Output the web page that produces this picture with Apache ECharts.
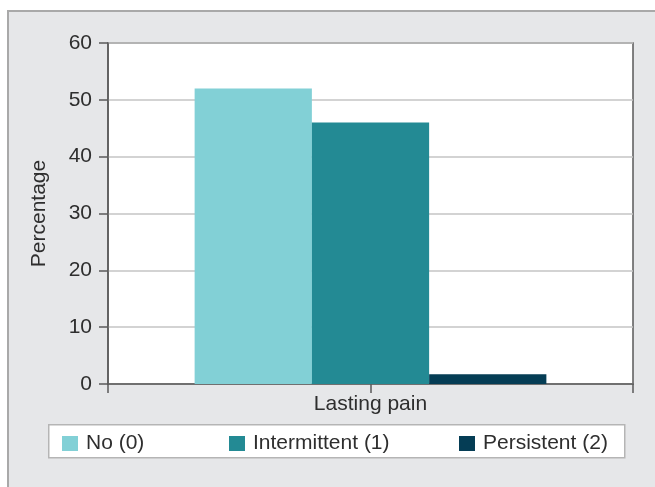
<!DOCTYPE html>
<html>
<head>
<meta charset="utf-8">
<script src="https://cdn.jsdelivr.net/npm/echarts@6/dist/echarts.min.js"></script>
<style>
  html, body { margin: 0; padding: 0; background: #fff; }
  #wrap { position: relative; width: 655px; height: 487px; overflow: hidden; }
  #frame { position: absolute; left: 7px; top: 10px; width: 700px; height: 520px;
           background: #e6e7e9; border: 2px solid #a9a9a9; }
  #chart { position: absolute; left: 0; top: 0; width: 655px; height: 487px; }
</style>
</head>
<body>
<div id="wrap">
  <div id="frame"></div>
  <div id="chart"></div>
</div>
<script>
// Lasting pain outcome, percentage of patients per group
const categories = ['Lasting pain'];
const seriesNames = ['No (0)', 'Intermittent (1)', 'Persistent (2)'];
const noPain = [52];
const intermittent = [46];
const persistent = [1.7];
const yTicks = { min: 0, max: 60, interval: 10 };

const colors = ['#82d0d6', '#238a94', '#053d55'];
const font = 'Liberation Sans, Arial, sans-serif';
const fontSize = 21;
const textColor = '#2e2e2e';
const axisColor = '#5a5a5a';

const chart = echarts.init(document.getElementById('chart'));

// one legend per entry so each sits at its own spot in the white box
const legendLefts = [62, 229, 459];
const legends = seriesNames.map((name, i) => ({
  data: [name],
  left: legendLefts[i],
  top: 433,
  padding: 0,
  itemWidth: 16,
  itemHeight: 15,
  itemGap: 0,
  icon: 'rect',
  selectedMode: false,
  textStyle: { fontFamily: font, fontSize: fontSize, color: textColor, padding: [0, 0, 0, 3] }
}));

const option = {
  animation: false,
  color: colors,
  textStyle: { fontFamily: font },
  graphic: [{
    type: 'rect',
    left: 48, top: 424, z: -1,
    shape: { width: 576, height: 33 },
    style: { fill: '#ffffff', stroke: '#b5b5b5', lineWidth: 1.5 }
  }],
  legend: legends,
  grid: {
    left: 108, right: 22, top: 43, bottom: 103,
    show: true, backgroundColor: '#ffffff',
    borderColor: axisColor, borderWidth: 1.5
  },
  xAxis: [{
    type: 'category',
    data: categories,
    show: false
  }, {
    // tick/label axis: ticks at both plot edges and under the group label
    type: 'category',
    position: 'bottom',
    boundaryGap: false,
    data: ['', categories[0], ''],
    axisLine: { lineStyle: { color: axisColor, width: 1.5 } },
    axisTick: { show: true, length: 9, interval: 0, lineStyle: { color: axisColor, width: 1.5 } },
    axisLabel: { interval: 0, margin: 10, fontSize: fontSize, color: textColor, fontFamily: font },
    splitLine: { show: false }
  }],
  yAxis: {
    type: 'value',
    min: yTicks.min, max: yTicks.max, interval: yTicks.interval,
    name: 'Percentage',
    nameLocation: 'middle',
    nameGap: 58,
    nameTextStyle: { fontSize: fontSize, color: textColor, fontFamily: font },
    axisLine: { show: true, lineStyle: { color: axisColor, width: 1.5 } },
    axisTick: { show: true, length: 9, lineStyle: { color: axisColor, width: 1.5 } },
    axisLabel: { margin: 16, fontSize: fontSize, color: textColor, fontFamily: font },
    splitLine: { lineStyle: { color: '#c4c4c4', width: 1.5 } }
  },
  series: [
    { name: seriesNames[0], type: 'bar', xAxisIndex: 0, data: noPain, barCategoryGap: '33%', barGap: '0%' },
    { name: seriesNames[1], type: 'bar', xAxisIndex: 0, data: intermittent, barCategoryGap: '33%', barGap: '0%' },
    { name: seriesNames[2], type: 'bar', xAxisIndex: 0, data: persistent, barCategoryGap: '33%', barGap: '0%' }
  ]
};

chart.setOption(option);
</script>
</body>
</html>
